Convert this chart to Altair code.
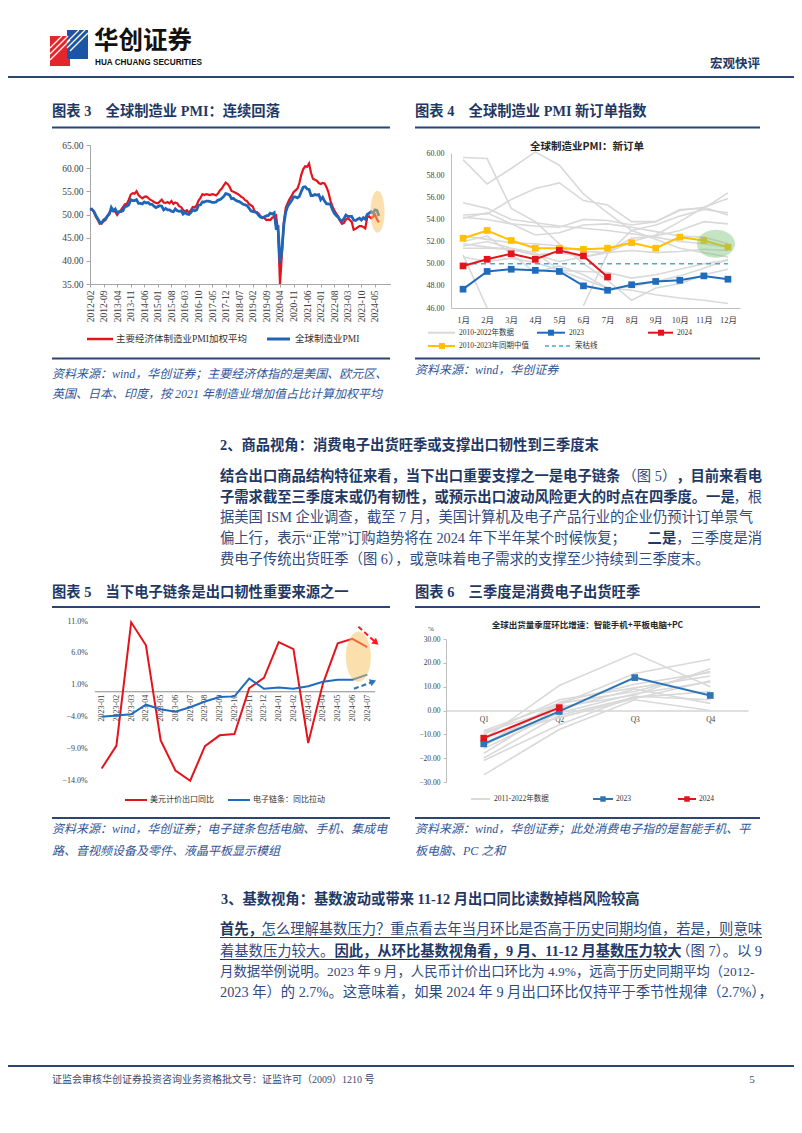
import altair as alt
import pandas as pd
import numpy as np

W, H = 786, 1117
CJK = "Noto Sans CJK SC"
MIX = "Liberation Serif, Times New Roman, Noto Sans CJK SC"
SERIF = "Liberation Serif, Times New Roman"
NAVY = "#1f3864"
TXT = "#2f4b80"
SRC = "#2f5597"
LINE = "#2b4673"
RED = "#e3141c"
BLUE = "#1f66b8"

# ---------------- data: chart 3 (global manufacturing PMI) ----------------
months3 = list(pd.period_range("2012-02", "2024-07", freq="M").strftime("%Y-%m"))
labels3 = months3[::7]
weighted_pmi = [
    51.0, 51.2, 50.5, 49.5, 48.8, 48.0, 48.2, 48.5, 48.8, 49.6, 50.4,
    50.9, 50.8, 50.6, 49.9, 50.5, 51.0, 51.6, 52.2, 52.3, 53.2, 54.3, 54.6,
    54.5, 55.0, 54.2, 53.8, 53.5, 53.8, 53.9, 53.6, 53.2, 53.0, 52.7, 52.5,
    52.4, 52.8, 53.2, 52.6, 52.5, 52.7, 52.4, 52.9, 52.3, 52.6, 52.4, 51.8,
    51.6, 51.0, 50.6, 50.9, 50.4, 50.9, 51.6, 51.5, 52.0, 53.0, 53.6, 54.4,
    54.2, 54.4, 54.3, 54.2, 54.4, 54.3, 54.1, 54.5, 55.2, 55.6, 56.3, 56.9,
    56.6, 56.0, 55.1, 54.9, 54.7, 54.5, 54.2, 53.8, 53.6, 53.1, 52.9, 52.3,
    52.0, 51.7, 50.5, 50.5, 50.2, 49.6, 49.4, 49.2, 48.8, 48.9, 48.8, 49.3,
    49.5, 49.8, 46.3, 35.0, 41.5, 48.5, 51.5, 52.5, 53.4, 54.0, 54.8, 55.2,
    55.6, 56.8, 58.6, 59.8, 60.4, 60.3, 61.0, 59.0, 57.7, 57.5, 57.3, 56.8,
    56.6, 56.8, 56.7, 55.9, 54.8, 53.0, 51.8, 50.9, 50.2, 49.6, 48.6, 48.0,
    48.2, 48.9, 49.2, 48.8, 48.4, 46.7, 46.9, 47.2, 47.5, 47.5, 47.3, 47.0,
    49.4, 49.6, 49.2, 49.5, 50.0, 49.0, 48.3,
]
global_pmi = [
    51.2, 51.1, 50.7, 49.8, 49.1, 48.4, 48.1, 48.8, 49.1, 49.7, 50.1,
    51.5, 50.8, 51.2, 50.4, 50.6, 50.6, 50.8, 51.7, 51.8, 52.1, 53.2, 53.0,
    53.0, 53.2, 52.4, 52.4, 52.3, 52.7, 52.5, 52.6, 52.2, 52.2, 51.8, 51.5,
    51.7, 51.9, 51.8, 51.0, 51.3, 51.0, 51.0, 50.7, 50.6, 51.2, 50.8, 50.7,
    50.8, 50.1, 50.5, 50.1, 50.0, 50.4, 51.0, 50.8, 51.0, 52.0, 52.1, 52.7,
    52.7, 52.9, 52.9, 52.8, 52.6, 52.6, 52.7, 53.1, 53.2, 53.5, 53.9, 54.5,
    54.4, 54.2, 53.4, 53.5, 53.1, 52.9, 52.8, 52.5, 52.2, 52.1, 51.9, 51.4,
    50.8, 50.6, 50.6, 50.4, 49.8, 49.4, 49.3, 49.5, 49.7, 49.8, 50.3, 50.1,
    50.4, 47.1, 47.3, 39.6, 42.4, 47.9, 50.6, 51.8, 52.4, 53.0, 53.8, 53.8,
    53.6, 53.9, 55.0, 55.9, 56.0, 55.5, 55.4, 54.1, 54.1, 54.3, 54.2, 54.3,
    53.2, 53.7, 52.9, 52.3, 52.3, 52.2, 51.1, 50.3, 49.8, 49.4, 48.8, 48.6,
    49.1, 49.9, 49.6, 49.6, 49.6, 48.8, 48.7, 49.0, 49.2, 48.8, 49.3, 49.0,
    50.0, 50.3, 50.6, 50.3, 51.0, 50.9, 49.7,
]
highlight3 = {"idx": [148.3], "value": [50.6]}

# ---------------- data: chart 4 (new orders) ----------------
months4 = list(range(1, 13))
gray_2010_2022 = {
    "2010": [55.5, 55.0, 54.0, 53.7, 53.4, 53.2, 53.0, 52.7, 52.4, 52.0, 51.8, 51.5],
    "2011": [59.6, 59.5, 55.0, 53.8, 51.8, 50.0, 48.5, 46.7, 47.8, 48.2, 49.0, 49.5],
    "2012": [51.6, 52.0, 51.4, 51.0, 49.4, 48.6, 47.8, 47.9, 48.4, 48.9, 49.6, 50.4],
    "2013": [51.4, 51.4, 51.3, 50.8, 51.0, 50.6, 51.1, 52.3, 52.5, 53.0, 53.8, 53.6],
    "2014": [54.2, 54.0, 53.6, 52.6, 52.8, 53.5, 53.6, 53.3, 52.9, 52.5, 52.4, 51.8],
    "2015": [52.5, 52.2, 51.9, 51.8, 51.6, 51.1, 51.0, 51.2, 51.0, 51.1, 51.3, 51.2],
    "2016": [51.8, 51.5, 51.3, 50.8, 50.2, 50.6, 51.0, 52.0, 52.6, 53.8, 55.1, 55.9],
    "2017": [54.4, 54.5, 55.8, 56.8, 57.3, 55.7, 55.3, 53.8, 53.8, 54.8, 55.1, 54.4],
    "2018": [54.1, 54.6, 53.6, 53.4, 53.3, 54.0, 53.9, 53.5, 53.8, 54.9, 55.0, 56.4],
    "2019": [50.6, 50.2, 50.5, 50.1, 49.4, 49.3, 49.2, 48.7, 49.0, 49.5, 50.0, 50.3],
    "2020": [50.8, 46.0, None, None, None, 46.2, 50.9, 53.0, 53.5, 54.3, 54.9, 54.6],
    "2021": [59.4, 57.2, 58.6, 60.1, 58.9, 56.3, 54.6, 53.0, 52.2, 51.4, 51.0, 50.6],
    "2022": [52.0, 52.5, 50.9, 49.2, 49.8, 49.0, 47.8, 47.6, 47.2, 46.9, 46.7, 46.4],
}
new_orders_2023 = [47.7, 49.3, 49.5, 49.4, 49.3, 48.0, 47.6, 48.1, 48.4, 48.5, 48.9, 48.6]
new_orders_2024 = [49.8, 50.4, 50.9, 50.4, 51.2, 50.7, 48.8]
median_2010_2023 = [52.3, 53.0, 52.1, 51.4, 51.4, 51.3, 51.4, 51.9, 51.4, 52.4, 52.1, 51.5]
rongku = 50.0
highlight4 = {"month": [11.5], "value": [51.8]}

# ---------------- data: chart 5 (exports vs electronics) ----------------
months5 = list(pd.period_range("2023-01", "2024-07", freq="M").strftime("%Y-%m"))
export_yoy = [-12.1, -8.5, 10.8, 7.2, -7.7, -12.4, -14.0, -8.6, -6.9, -6.7, 0.5, 2.1,
              7.7, 6.6, -8.1, 1.2, 7.5, 8.2, 6.9]
electronics_pull = [-4.0, -3.8, -3.6, -2.1, -2.8, -3.2, -2.5, -1.6, -0.9, -0.8, 2.0, 0.4,
                    0.6, 0.4, 0.8, 1.5, 1.8, 1.8, 2.6]
highlight5 = {"idx": [17.4], "value": [5.4]}
arrow_red = {"x0": [17.4], "y0": [10.1], "x1": [18.6], "y1": [7.6]}
arrow_blue = {"x0": [17.1], "y0": [0.4], "x1": [18.4], "y1": [1.5]}

# ---------------- data: chart 6 (shipments q/q) ----------------
quarters = ["Q1", "Q2", "Q3", "Q4"]
gray_2011_2022 = {
    "2011": [-8.5, 3.0, 8.0, 16.5],
    "2012": [-10.0, 4.5, 9.5, 14.5],
    "2013": [-12.0, 10.5, 24.0, 10.0],
    "2014": [-14.0, 2.5, 15.5, 21.5],
    "2015": [-16.0, -1.0, 7.0, 12.0],
    "2016": [-18.0, 1.5, 6.5, 17.5],
    "2017": [-20.0, -2.0, 5.5, 8.0],
    "2018": [-21.0, -6.0, 6.0, 4.5],
    "2019": [-27.0, -8.0, 4.5, 0.0],
    "2020": [-9.0, 0.5, 9.0, 3.0],
    "2021": [-15.0, 3.5, 11.0, 16.0],
    "2022": [-11.0, -3.0, 5.0, 12.5],
}
ship_2023 = [-14.0, -0.4, 13.8, 6.3]
ship_2024 = [-11.6, 1.2]

# ---------------- helpers ----------------
dummy = pd.DataFrame({"k": [0]})


def T(s, x, y, size=14.3, weight="normal", color=TXT, align="left",
      font=MIX, style="normal"):
    return alt.Chart(dummy).mark_text(
        text=s, fontSize=size, fontWeight=weight, color=color, align=align,
        baseline="middle", font=font, fontStyle=style
    ).encode(x=alt.value(x), y=alt.value(y))


def R(x1, y1, x2, y2, color, w=1.0, dash=None):
    kw = dict(color=color, strokeWidth=w)
    if dash:
        kw["strokeDash"] = dash
    return alt.Chart(dummy).mark_rule(**kw).encode(
        x=alt.value(x1), x2=alt.value(x2), y=alt.value(y1), y2=alt.value(y2))


def B(x1, y1, x2, y2, color):
    return alt.Chart(dummy).mark_rect(color=color).encode(
        x=alt.value(x1), x2=alt.value(x2), y=alt.value(y1), y2=alt.value(y2))


def P(x, y, color, size=36, shape="square"):
    return alt.Chart(dummy).mark_point(
        shape=shape, filled=True, color=color, size=size, opacity=1
    ).encode(x=alt.value(x), y=alt.value(y))


def ellipse(rx, ry, n=48):
    r = max(rx, ry)
    pts = [(rx / r * np.cos(t), ry / r * np.sin(t))
           for t in np.linspace(0, 2 * np.pi, n, endpoint=False)]
    return "M" + " L".join(f"{a:.3f},{b:.3f}" for a, b in pts) + " Z", (2 * r) ** 2


def ypix(v, dom, rng):
    return rng[0] + (v - dom[0]) / (dom[1] - dom[0]) * (rng[1] - rng[0])


GAP = "\u3000"
layers = []

# ---------------- header ----------------
layers += [
    B(42, 28, 62, 58, "#e4252c"),
    B(59, 22, 80, 51, "#1c55a5"),
    R(42, 40, 54, 28, "white", 1.2), R(42, 46, 60, 28, "white", 1.2),
    R(42, 52, 62, 32, "white", 1.2), R(59, 34, 71, 22, "white", 1.2),
    R(59, 40, 77, 22, "white", 1.2), R(62, 43, 80, 25, "white", 1.2),
    T("华创证券", 86, 34, 24.5, "bold", "#111111", font=CJK),
    T("HUA CHUANG SECURITIES", 87, 54.5, 8.2, "bold", "#111111",
      font="Liberation Sans Narrow, Arial Narrow, Liberation Sans"),
    T("宏观快评", 752, 56, 12.5, "bold", NAVY, align="right", font=CJK),
    R(0, 69, W, 69, LINE, 2.2),
    T("图表 3" + GAP + "全球制造业 PMI：连续回落", 44, 104, 14.3, "bold", NAVY),
    T("图表 4" + GAP + "全球制造业 PMI 新订单指数", 407, 104, 14.3, "bold", NAVY),
    R(44, 119.5, 382, 119.5, LINE, 2),
    R(407, 119.5, 752, 119.5, LINE, 2),
]

# ---------------- chart 3 ----------------
df3 = pd.DataFrame({"idx": range(len(months3)), "weighted": weighted_pmi, "glob": global_pmi})
d3x, r3x = [0, 155], [82, 382.5]
d3y, r3y = [35, 65], [276, 137]
sx3 = alt.Scale(domain=d3x, range=r3x, nice=False, zero=False)
sy3 = alt.Scale(domain=d3y, range=r3y, nice=False, zero=False)
lab3 = "[" + ",".join(f"'{s}'" for s in labels3) + "][round(datum.value / 7)]"
ax3x = alt.Axis(orient="bottom", offset=r3y[0] - H, values=list(range(0, len(months3), 7)),
                labelExpr=lab3, labelAngle=-90, labelFont=SERIF, labelFontSize=9.5,
                labelColor="#404040", labelPadding=3, tickSize=3, tickColor="#a6a6a6",
                domainColor="#a6a6a6", grid=False, title=None, labelOverlap=False)
ax3y = alt.Axis(orient="left", offset=-r3x[0], values=list(range(35, 66, 5)), format=".2f",
                labelFont=SERIF, labelFontSize=9.5, labelColor="#404040", labelPadding=3,
                tickSize=4, tickColor="#a6a6a6", domainColor="#a6a6a6", grid=False, title=None)
c3a = alt.Chart(df3).mark_line(color=RED, strokeWidth=2.2).encode(
    x=alt.X("idx:Q", scale=sx3, axis=ax3x), y=alt.Y("weighted:Q", scale=sy3, axis=ax3y))
c3b = alt.Chart(df3).mark_line(color=BLUE, strokeWidth=2.8).encode(
    x=alt.X("idx:Q", scale=sx3, axis=ax3x), y=alt.Y("glob:Q", scale=sy3, axis=ax3y))
e3, s3 = ellipse(7, 21)
c3e = alt.Chart(pd.DataFrame(highlight3)).mark_point(
    shape=e3, size=s3, filled=True, color="#f8c25c", opacity=0.5, strokeWidth=0).encode(
    x=alt.X("idx:Q", scale=sx3, axis=ax3x), y=alt.Y("value:Q", scale=sy3, axis=ax3y))
layers.append(alt.layer(c3a, c3b, c3e))
layers += [
    R(79, 331, 105, 331, RED, 2.5), T("主要经济体制造业PMI加权平均", 108, 331, 9.5, color="#333333"),
    R(259, 331, 282, 331, BLUE, 3), T("全球制造业PMI", 287, 331, 9.5, color="#333333"),
    R(44, 350.5, 382, 350.5, LINE, 2),
    T("资料来源：wind，华创证券；主要经济体指的是美国、欧元区、", 44, 366, 12, color=SRC, style="italic"),
    T("英国、日本、印度，按 2021 年制造业增加值占比计算加权平均", 44, 386, 12, color=SRC, style="italic"),
]

# ---------------- chart 4 ----------------
rows = []
for yr, vals in gray_2010_2022.items():
    seg = 0
    for m, v in zip(months4, vals):
        if v is None:
            seg += 1
            continue
        rows.append({"month": m, "value": v, "seg": f"{yr}-{seg}"})
df4g = pd.DataFrame(rows)
df4m = pd.DataFrame({"month": months4, "value": median_2010_2023})
df4a = pd.DataFrame({"month": months4, "value": new_orders_2023})
df4b = pd.DataFrame({"month": months4[:len(new_orders_2024)], "value": new_orders_2024})
df4r = pd.DataFrame({"m0": [months4[0]], "m1": [months4[-1]], "value": [rongku]})
d4x, r4x = [0.5, 12.5], [443, 732]
d4y, r4y = [46, 60], [300, 145]
sx4 = alt.Scale(domain=d4x, range=r4x, nice=False, zero=False)
sy4 = alt.Scale(domain=d4y, range=r4y, nice=False, zero=False)
ax4x = alt.Axis(orient="bottom", offset=r4y[0] - H, values=months4, labelExpr="datum.value + '月'",
                labelFont=MIX, labelFontSize=8.5, labelColor="#404040", labelPadding=7,
                ticks=False, domainColor="#bfbfbf", grid=False, title=None)
ax4y = alt.Axis(orient="left", offset=-r4x[0], values=list(range(46, 61, 2)), format=".2f",
                labelFont=SERIF, labelFontSize=8, labelColor="#404040", labelPadding=7,
                ticks=False, domainColor="#bfbfbf", grid=False, title=None)
X4 = alt.X("month:Q", scale=sx4, axis=ax4x)
Y4 = alt.Y("value:Q", scale=sy4, axis=ax4y)
c4g = alt.Chart(df4g).mark_line(color="#d9d9d9", strokeWidth=1.6).encode(x=X4, y=Y4, detail="seg:N")
c4r = alt.Chart(df4r).mark_rule(color="#4bacc6", strokeWidth=1.5, strokeDash=[5, 4]).encode(
    x=alt.X("m0:Q", scale=sx4, axis=ax4x), x2="m1:Q", y=Y4)
c4m = alt.Chart(df4m).mark_line(color="#ffc000", strokeWidth=2,
                                point=alt.OverlayMarkDef(shape="square", filled=True, size=45, color="#ffc000")
                                ).encode(x=X4, y=Y4)
c4a = alt.Chart(df4a).mark_line(color="#1f6bbd", strokeWidth=2,
                                point=alt.OverlayMarkDef(shape="square", filled=True, size=45, color="#1f6bbd")
                                ).encode(x=X4, y=Y4)
c4b = alt.Chart(df4b).mark_line(color=RED, strokeWidth=2,
                                point=alt.OverlayMarkDef(shape="square", filled=True, size=45, color=RED)
                                ).encode(x=X4, y=Y4)
e4, s4 = ellipse(19, 14)
c4e = alt.Chart(pd.DataFrame(highlight4)).mark_point(
    shape=e4, size=s4, filled=True, color="#7cc47a", opacity=0.45, strokeWidth=0).encode(x=X4, y=Y4)
layers.append(alt.layer(c4g, c4r, c4m, c4a, c4b, c4e))
layers += [
    T("全球制造业PMI：新订单", 579, 139, 10.5, "bold", "#262626", align="center", font=CJK),
    R(420, 324.7, 447, 324.7, "#d9d9d9", 2), T("2010-2022年数据", 451, 324.7, 7.5, color="#333333"),
    R(529, 324.7, 557, 324.7, "#1f6bbd", 2), P(543, 324.7, "#1f6bbd", 36),
    T("2023", 561, 324.7, 7.5, color="#333333"),
    R(640, 324.7, 665, 324.7, RED, 2), P(653, 324.7, RED, 36), T("2024", 669, 324.7, 7.5, color="#333333"),
    R(420, 338, 447, 338, "#ffc000", 2), P(434, 338, "#ffc000", 36),
    T("2010-2023年同期中值", 451, 338, 7.5, color="#333333"),
    R(537, 338, 562, 338, "#4bacc6", 1.5, [4, 3]), T("荣枯线", 567, 338, 7.5, color="#333333"),
    R(407, 350.5, 752, 350.5, LINE, 2),
    T("资料来源：wind，华创证券", 407, 362, 12, color=SRC, style="italic"),
]

# ---------------- section 2 text ----------------
EM = 14.3
layers += [
    T("2、商品视角：消费电子出货旺季或支撑出口韧性到三季度末", 212, 438, 14.3, "bold", NAVY),
    T("结合出口商品结构特征来看，当下出口重要支撑之一是电子链条", 212, 469, EM, "bold", NAVY),
    T("（图 5）", 754 - 6 * EM, 469, EM, color=TXT, align="right"),
    T("，目前来看电", 754, 469, EM, "bold", NAVY, align="right"),
    T("子需求截至三季度末或仍有韧性，或预示出口波动风险更大的时点在四季度。一是", 212, 490, EM, "bold", NAVY),
    T("，根", 754, 490, EM, color=TXT, align="right"),
    T("据美国 ISM 企业调查，截至 7 月，美国计算机及电子产品行业的企业仍预计订单景气", 212, 510, EM),
    T("偏上行，表示“正常”订购趋势将在 2024 年下半年某个时候恢复；", 212, 531, EM),
    T("二是", 754 - 6 * EM, 531, EM, "bold", NAVY, align="right"),
    T("，三季度是消", 754, 531, EM, color=TXT, align="right"),
    T("费电子传统出货旺季（图 6），或意味着电子需求的支撑至少持续到三季度末。", 212, 552, EM),
    T("图表 5" + GAP + "当下电子链条是出口韧性重要来源之一", 44, 585, 14.3, "bold", NAVY),
    T("图表 6" + GAP + "三季度是消费电子出货旺季", 407, 585, 14.3, "bold", NAVY),
    R(44, 599, 382, 599, LINE, 2),
    R(407, 599, 752, 599, LINE, 2),
]

# ---------------- chart 5 ----------------
df5 = pd.DataFrame({"idx": range(len(months5)), "exp": export_yoy, "ele": electronics_pull})
d5x, r5x = [-0.5, 18.5], [86.3, 366.6]
d5y, r5y = [-14, 11], [772.7, 613]
sx5 = alt.Scale(domain=d5x, range=r5x, nice=False, zero=False)
sy5 = alt.Scale(domain=d5y, range=r5y, nice=False, zero=False)
lab5 = "[" + ",".join(f"'{s}'" for s in months5) + "][datum.value]"
ax5x = alt.Axis(orient="bottom", offset=ypix(0, d5y, r5y) - H, values=list(range(len(months5))),
                labelExpr=lab5, labelAngle=-90, labelFont=SERIF, labelFontSize=8,
                labelColor="#404040", labelPadding=3, ticks=False, domainColor="#8c8c8c",
                grid=False, title=None, labelOverlap=False)
ax5y = alt.Axis(orient="left", offset=-r5x[0], values=[-14, -9, -4, 1, 6, 11],
                labelExpr="format(datum.value, '.1f') + '%'", labelFont=SERIF, labelFontSize=8,
                labelColor="#404040", labelPadding=7, ticks=False, domain=False, grid=False, title=None)
c5a = alt.Chart(df5).mark_line(color=RED, strokeWidth=2).encode(
    x=alt.X("idx:Q", scale=sx5, axis=ax5x), y=alt.Y("exp:Q", scale=sy5, axis=ax5y))
c5b = alt.Chart(df5).mark_line(color="#1f6bbd", strokeWidth=2).encode(
    x=alt.X("idx:Q", scale=sx5, axis=ax5x), y=alt.Y("ele:Q", scale=sy5, axis=ax5y))
e5, s5 = ellipse(12.5, 25)
c5e = alt.Chart(pd.DataFrame(highlight5)).mark_point(
    shape=e5, size=s5, filled=True, color="#f8c25c", opacity=0.5, strokeWidth=0).encode(
    x=alt.X("idx:Q", scale=sx5, axis=ax5x), y=alt.Y("value:Q", scale=sy5, axis=ax5y))


def arrow(d, color, ang):
    df = pd.DataFrame(d)
    line = alt.Chart(df).mark_rule(color=color, strokeWidth=2, strokeDash=[5, 3]).encode(
        x=alt.X("x0:Q", scale=sx5, axis=ax5x), x2="x1:Q",
        y=alt.Y("y0:Q", scale=sy5, axis=ax5y), y2="y1:Q")
    head = alt.Chart(df).mark_point(shape="triangle-up", filled=True, color=color, size=55,
                                    angle=ang, opacity=1).encode(
        x=alt.X("x1:Q", scale=sx5, axis=ax5x), y=alt.Y("y1:Q", scale=sy5, axis=ax5y))
    return [line, head]


layers.append(alt.layer(c5a, c5b, c5e, *arrow(arrow_red, "#ff1a1a", 130),
                        *arrow(arrow_blue, "#2e75b6", 69)))
layers += [
    R(117, 792, 139, 792, RED, 2), T("美元计价出口同比", 142, 792, 8, color="#333333"),
    R(220, 792, 242, 792, "#1f6bbd", 2), T("电子链条：同比拉动", 245, 792, 8, color="#333333"),
]

# ---------------- chart 6 ----------------
rows6 = []
for yr, vals in gray_2011_2022.items():
    for q, v in zip(quarters, vals):
        rows6.append({"q": q, "value": v, "year": yr})
df6g = pd.DataFrame(rows6)
df6a = pd.DataFrame({"q": quarters, "value": ship_2023})
df6b = pd.DataFrame({"q": quarters[:len(ship_2024)], "value": ship_2024})
d6y, r6y = [-30, 30], [774, 631]
r6x = [438, 740]
sx6 = alt.Scale(type="point", domain=quarters, range=r6x, padding=0.5)
sy6 = alt.Scale(domain=d6y, range=r6y, nice=False, zero=False)
ax6x = alt.Axis(orient="bottom", offset=ypix(0, d6y, r6y) - H, labelFont=SERIF, labelFontSize=7.5,
                labelColor="#404040", labelPadding=5, labelAngle=0, ticks=False,
                domainColor="#bfbfbf", grid=False, title=None)
ax6y = alt.Axis(orient="left", offset=-r6x[0], values=list(range(-30, 31, 10)), format=".2f",
                labelFont=SERIF, labelFontSize=7.5, labelColor="#404040", labelPadding=3,
                tickSize=3, tickColor="#bfbfbf", domainColor="#bfbfbf", grid=False, title=None)
X6 = alt.X("q:N", scale=sx6, axis=ax6x, sort=quarters)
Y6 = alt.Y("value:Q", scale=sy6, axis=ax6y)
c6g = alt.Chart(df6g).mark_line(color="#d9d9d9", strokeWidth=1.6).encode(x=X6, y=Y6, detail="year:N")
c6a = alt.Chart(df6a).mark_line(color="#2e75b6", strokeWidth=2,
                                point=alt.OverlayMarkDef(shape="square", filled=True, size=45, color="#2e75b6")
                                ).encode(x=X6, y=Y6)
c6b = alt.Chart(df6b).mark_line(color=RED, strokeWidth=2,
                                point=alt.OverlayMarkDef(shape="square", filled=True, size=45, color=RED)
                                ).encode(x=X6, y=Y6)
layers.append(alt.layer(c6g, c6a, c6b))
layers += [
    T("全球出货量季度环比增速：智能手机+平板电脑+PC", 579.5, 617, 8.5, "bold", "#262626",
      align="center", font=CJK),
    T("%", 420, 621, 7, color="#404040", font=SERIF),
    R(463, 791, 482, 791, "#d9d9d9", 2), T("2011-2022年数据", 486, 791, 7.5, color="#333333"),
    R(585, 791, 605, 791, "#2e75b6", 2), P(595, 791, "#2e75b6", 30), T("2023", 608, 791, 7.5, color="#333333"),
    R(670, 791, 688, 791, RED, 2), P(679, 791, RED, 30), T("2024", 691, 791, 7.5, color="#333333"),
    R(44, 810, 382, 810, LINE, 2),
    R(407, 810, 752, 810, LINE, 2),
    T("资料来源：wind，华创证券；电子链条包括电脑、手机、集成电", 44, 821, 12, color=SRC, style="italic"),
    T("路、音视频设备及零件、液晶平板显示模组", 44, 843, 12, color=SRC, style="italic"),
    T("资料来源：wind，华创证券；此处消费电子指的是智能手机、平", 407, 821, 12, color=SRC, style="italic"),
    T("板电脑、PC 之和", 407, 843, 12, color=SRC, style="italic"),
]

# ---------------- section 3 text ----------------
layers += [
    T("3、基数视角：基数波动或带来 11-12 月出口同比读数掉档风险较高", 213, 892, 14.3, "bold", NAVY),
    T("首先，", 212, 922, EM, "bold", NAVY),
    T("怎么理解基数压力？重点看去年当月环比是否高于历史同期均值，若是，则意味", 754, 922, EM,
      color=TXT, align="right"),
    R(212, 929.5, 754, 929.5, NAVY, 1.2),
    T("着基数压力较大。", 212, 944, EM),
    T("因此，从环比基数视角看，9 月、11-12 月基数压力较大", 212 + 8 * EM, 944, EM, "bold", NAVY),
    T("（图 7）。以 9", 754, 944, EM, color=TXT, align="right"),
    R(212, 951.5, 664, 951.5, NAVY, 1.2),
    T("月数据举例说明。2023 年 9 月，人民币计价出口环比为 4.9%，远高于历史同期平均（2012-", 212, 964, 13.4),
    T("2023 年）的 2.7%。这意味着，如果 2024 年 9 月出口环比仅持平于季节性规律（2.7%），", 212, 985, EM),
    R(0, 1058, W, 1058, LINE, 2.2),
    T("证监会审核华创证券投资咨询业务资格批文号：证监许可（2009）1210 号", 44, 1072, 10, color="#3b4a6b"),
    T("5", 744, 1072, 11, color="#3b4a6b", align="center", font=SERIF),
]

chart = alt.layer(*layers).resolve_scale(x="independent", y="independent").properties(
    width=W, height=H, padding=0, background="white",
    autosize=alt.AutoSizeParams(type="none"),
).configure_view(stroke=None)

chart.save("out.html", embed_options={"renderer": "svg", "actions": False})
